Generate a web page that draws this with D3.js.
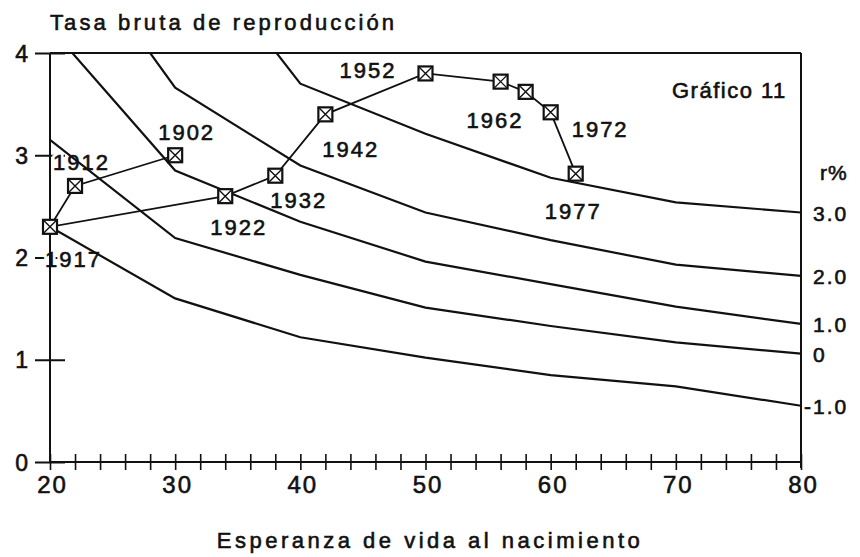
<!DOCTYPE html>
<html>
<head>
<meta charset="utf-8">
<script src="https://cdn.jsdelivr.net/npm/d3@7"></script>
<style>
  body { margin: 0; background: #fff; }
  text { font-family: "Liberation Sans", Arial, Helvetica, sans-serif; fill: #111; }
  .ink { stroke: #111; stroke-width: 0.6px; }
</style>
</head>
<body>
<div id="chart"></div>
<script>
// Esperanza de vida (e0) en las isolíneas de crecimiento r%
var ages = [20, 30, 40, 50, 60, 70, 80];
var rMinus1 = [2.30, 1.60, 1.22, 1.02, 0.85, 0.74, 0.55];
var r0 = [3.15, 2.19, 1.83, 1.51, 1.33, 1.17, 1.06];
var r1 = [4.25, 2.85, 2.35, 1.96, 1.74, 1.52, 1.35];
var r2 = [5.36, 3.66, 2.90, 2.44, 2.17, 1.93, 1.82];
var r3 = [null, 5.28, 3.70, 3.21, 2.78, 2.54, 2.44];
var rLabels = ["3.0", "2.0", "1.0", "0", "-1.0"];

// trayectoria histórica: año, esperanza de vida, tasa bruta de reproducción
var years = ["1902", "1912", "1917", "1922", "1932", "1942", "1952", "1962", "1967", "1972", "1977"];
var lifeExp = [30, 22, 20, 34, 38, 42, 50, 56, 58, 60, 62];
var grossRate = [3.0, 2.7, 2.3, 2.6, 2.8, 3.4, 3.8, 3.72, 3.62, 3.42, 2.82];

var yTicks = [0, 1, 2, 3, 4];
var xLabelTicks = [20, 30, 40, 50, 60, 70, 80];

(function () {
    var width = 860, height = 557;
    var left = 50, right = 801, top = 53, bottom = 462;

    // where each year label sits relative to its marker
    var labelOffset = {
        "1902": [-17, -15], "1912": [-22, -16], "1917": [-5, 40], "1922": [-15, 39],
        "1932": [-5, 32], "1942": [-3, 43], "1952": [-86, 5], "1962": [-34, 46],
        "1972": [21, 25], "1977": [-31, 45]
    };

    var svg = d3.select('#chart')
                .append('svg')
                .attr('width', width)
                .attr('height', height);

    svg.append('rect').attr('width', width).attr('height', height).attr('fill', '#fff');

    var x = d3.scaleLinear().domain([20, 80]).range([left, right]);
    var y = d3.scaleLinear().domain([0, 4]).range([bottom, top]);

    // x axis: ticks every 2 years, crossing the line
    var xAxis = svg.append('g')
        .attr('transform', 'translate(0,' + bottom + ')')
        .call(d3.axisBottom(x)
            .tickValues(d3.range(20, 81, 2))
            .tickSizeOuter(0)
            .tickFormat(function (d) { return xLabelTicks.indexOf(d) >= 0 ? d : ''; }));
    xAxis.select('.domain').remove();
    xAxis.selectAll('line').attr('y1', -8).attr('y2', 8).attr('stroke', '#111').attr('stroke-width', 1.6);
    xAxis.selectAll('text')
        .attr('class', 'ink')
        .attr('y', 14).attr('dy', '0.71em').attr('dx', 2)
        .style('font-size', '24px').style('letter-spacing', '2px').attr('fill', '#111');

    // y axis on the left
    var yAxis = svg.append('g')
        .attr('transform', 'translate(' + left + ',0)')
        .call(d3.axisLeft(y).tickValues(yTicks).tickFormat(d3.format('d')).tickSizeOuter(0));
    yAxis.select('.domain').remove();
    yAxis.selectAll('line').attr('x1', -15).attr('x2', 15).attr('stroke', '#111').attr('stroke-width', 2);
    yAxis.selectAll('text')
        .attr('class', 'ink')
        .attr('x', -22).attr('dy', '0.35em')
        .style('font-size', '23px').attr('fill', '#111');

    var pts = years.map(function (d, i) { return { year: d, e: lifeExp[i], t: grossRate[i] }; });
    var labelled = pts.filter(function (d) { return labelOffset[d.year]; });
    function lx(d) { return x(d.e) + labelOffset[d.year][0]; }
    function ly(d) { return y(d.t) + labelOffset[d.year][1]; }

    // white patches under the year labels so they cover the ticks
    svg.append('g').selectAll('text')
        .data(labelled)
        .enter()
        .append('text')
        .attr('x', lx).attr('y', ly)
        .text(function (d) { return d.year; })
        .style('font-size', '22px')
        .style('letter-spacing', '2px')
        .attr('fill', '#fff').attr('stroke', '#fff').attr('stroke-width', 6);

    // frame
    var frame = svg.append('g').attr('stroke', '#111').attr('stroke-width', 2).attr('fill', 'none');
    frame.append('line').attr('x1', x(20)).attr('x2', x(80)).attr('y1', y(4)).attr('y2', y(4));
    frame.append('line').attr('x1', x(20)).attr('x2', x(80)).attr('y1', y(0)).attr('y2', y(0));
    frame.append('line').attr('x1', x(20)).attr('x2', x(20)).attr('y1', y(4)).attr('y2', y(0));
    frame.append('line').attr('x1', x(80)).attr('x2', x(80)).attr('y1', y(4)).attr('y2', y(0) + 6);

    // isolines of growth, clipped to the plot
    svg.append('clipPath').attr('id', 'plot')
        .append('rect').attr('x', left).attr('y', top).attr('width', right - left).attr('height', bottom - top);

    var curves = [r3, r2, r1, r0, rMinus1];
    var line = d3.line()
        .defined(function (d) { return d[1] !== null; })
        .x(function (d) { return x(d[0]); })
        .y(function (d) { return y(d[1]); });

    svg.append('g').attr('clip-path', 'url(#plot)')
        .selectAll('path')
        .data(curves)
        .enter()
        .append('path')
        .attr('d', function (c) { return line(ages.map(function (a, i) { return [a, c[i]]; })); })
        .attr('fill', 'none')
        .attr('stroke', '#111')
        .attr('stroke-width', 2.2);

    // r% labels at the right end of each curve
    svg.append('g').selectAll('text')
        .data(curves)
        .enter()
        .append('text')
        .attr('class', 'ink')
        .attr('x', function (c, i) { return rLabels[i].charAt(0) === '-' ? 804 : 813; })
        .attr('y', function (c) { return y(c[c.length - 1]); })
        .attr('dy', '0.4em')
        .text(function (c, i) { return rLabels[i]; })
        .style('font-size', '21px')
        .style('letter-spacing', '2px');

    svg.append('text').attr('class', 'ink').attr('x', 820).attr('y', 180).text('r%')
        .style('font-size', '21px').style('letter-spacing', '1px');

    // trajectory 1902-1977
    svg.append('path')
        .datum(pts)
        .attr('d', d3.line().x(function (d) { return x(d.e); }).y(function (d) { return y(d.t); }))
        .attr('fill', 'none')
        .attr('stroke', '#111')
        .attr('stroke-width', 1.8);

    var s = 7;
    var marks = svg.append('g').selectAll('g')
        .data(pts)
        .enter()
        .append('g')
        .attr('transform', function (d) { return 'translate(' + x(d.e) + ',' + y(d.t) + ')'; });
    marks.append('rect')
        .attr('x', -s).attr('y', -s).attr('width', 2 * s).attr('height', 2 * s)
        .attr('fill', '#fff').attr('stroke', '#111').attr('stroke-width', 2.2);
    marks.append('path')
        .attr('d', 'M' + (-s) + ',' + (-s) + 'L' + s + ',' + s + 'M' + s + ',' + (-s) + 'L' + (-s) + ',' + s)
        .attr('stroke', '#111').attr('stroke-width', 1.4);

    // year labels on top
    svg.append('g').selectAll('text')
        .data(labelled)
        .enter()
        .append('text')
        .attr('class', 'ink')
        .attr('x', lx).attr('y', ly)
        .text(function (d) { return d.year; })
        .style('font-size', '22px')
        .style('letter-spacing', '2px');

    // titles
    svg.append('text').attr('class', 'ink').attr('x', 50).attr('y', 30)
        .text('Tasa bruta de reproducción')
        .style('font-size', '22px').style('letter-spacing', '3.1px');

    svg.append('text').attr('class', 'ink').attr('x', 430).attr('y', 548)
        .attr('text-anchor', 'middle')
        .text('Esperanza de vida al nacimiento')
        .style('font-size', '22px').style('letter-spacing', '3.5px');

    svg.append('text').attr('class', 'ink').attr('x', 672).attr('y', 98)
        .text('Gráfico 11')
        .style('font-size', '22px').style('letter-spacing', '1.5px');
})();
</script>
</body>
</html>
